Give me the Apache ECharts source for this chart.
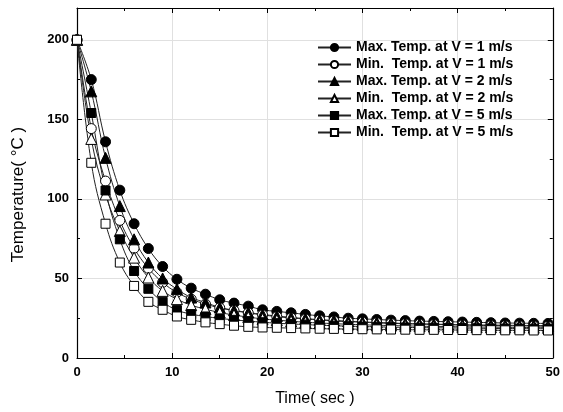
<!DOCTYPE html>
<html><head><meta charset="utf-8">
<script src="https://cdn.jsdelivr.net/npm/echarts@6/dist/echarts.min.js"></script>
<style>html,body{margin:0;padding:0;background:#fff}#c{width:563px;height:412px}</style>
</head><body><div id="c"></div>
<script>
const times = [0,1.5,3,4.5,6,7.5,9,10.5,12,13.5,15,16.5,18,19.5,21,22.5,24,25.5,27,28.5,30,31.5,33,34.5,36,37.5,39,40.5,42,43.5,45,46.5,48,49.5];
const maxV1 = [200,175,135.9,105.5,84.4,68.8,57.5,49.5,43.9,40.1,36.6,34.5,32.6,30.3,29.3,28.4,27.4,26.5,25.8,25.0,24.6,24.2,23.8,23.5,23.2,23.0,22.8,22.6,22.4,22.2,22.0,21.9,21.8,21.7];
const minV1 = [200,144.2,111.2,86.5,69,56.4,47.5,41.2,37,33.9,31.5,29.8,28.3,27.1,26.0,25.2,24.5,23.9,23.3,22.9,22.5,22.1,21.8,21.5,21.3,21.1,20.9,20.7,20.5,20.4,20.3,20.2,20.1,20.0];
const maxV2 = [200,167.6,125.8,95.5,74.6,60,50,43.3,38,34.9,31.8,30.0,28.6,27.4,26.4,25.5,24.8,24.1,23.6,23.1,22.7,22.3,22.0,21.7,21.5,21.3,21.1,20.9,20.8,20.7,20.6,20.5,20.4,20.3];
const minV2 = [200,137.7,102.8,79.8,63.1,50.6,42.2,37,33.2,30.7,28.6,27.0,25.7,24.6,23.8,23.1,22.5,22.0,21.6,21.2,20.9,20.6,20.4,20.2,20.0,19.8,19.7,19.6,19.5,19.4,19.3,19.2,19.1,19.0];
const maxV5 = [200,154,105.3,74.6,54.7,43.5,35.3,30.1,27.6,26.1,24.9,24.0,23.2,22.5,21.9,21.4,21.0,20.6,20.3,20.0,19.8,19.6,19.4,19.2,19.1,19.0,18.9,18.8,18.7,18.6,18.5,18.5,18.4,18.4];
const minV5 = [200,122.7,84.4,60,45.3,35.3,30.3,26.1,24,22.4,21.3,20.3,19.6,19.2,19.0,18.8,18.6,18.4,18.3,18.2,18.1,18.0,17.9,17.8,17.7,17.7,17.6,17.6,17.5,17.5,17.4,17.4,17.3,17.3];
const names = ['Max. Temp. at V = 1 m/s','Min.  Temp. at V = 1 m/s','Max. Temp. at V = 2 m/s','Min.  Temp. at V = 2 m/s','Max. Temp. at V = 5 m/s','Min.  Temp. at V = 5 m/s'];
const seriesVals = [maxV1,minV1,maxV2,minV2,maxV5,minV5];
const symbols = ['circle','circle','triangle','triangle','rect','rect'];
const filled = [true,false,true,false,true,false];

const chart = echarts.init(document.getElementById('c'));
const font = 'Liberation Sans, Arial, sans-serif';
const series = seriesVals.map((vals,i)=>({
  name: names[i], type:'line', smooth:0.4,
  data: times.map((t,j)=>[t, vals[j]]),
  symbol: symbols[i], symbolSize: symbols[i]==='rect'?9:(symbols[i]==='triangle'?11:10),
  showAllSymbol:true,
  lineStyle:{color:'#222', width:1},
  itemStyle:{color: filled[i]?'#000':'#fff', borderColor:'#000', borderWidth:1, opacity:1},
  emphasis:{disabled:true},
  animation:false
}));
const axisCommon = {
  axisLine:{show:true, onZero:false, lineStyle:{color:'#000', width:1.2}},
  axisTick:{show:true, inside:true, length:5, lineStyle:{color:'#000'}},
  minorTick:{show:true, splitNumber:2, length:3, lineStyle:{color:'#000'}}
};
chart.setOption({
  animation:false,
  backgroundColor:'#fff',
  grid:{left:77, right:6, top:8, bottom:53},
  legend:{
    orient:'vertical', left:317, top:39, padding:0, itemWidth:33, itemHeight:9, itemGap:0,
    textStyle:{fontFamily:font, fontWeight:'bold', fontSize:14, lineHeight:17, color:'#000', padding:[0,0,0,0]},
    data: names
  },
  graphic:[{
    type:'text', x:18, y:194.5, rotation:Math.PI/2,
    style:{text:'Temperature( °C )', font:'17px Liberation Sans, Arial, sans-serif', fill:'#000', align:'center', verticalAlign:'middle'}
  }],
  xAxis:[
    Object.assign({type:'value', min:0, max:50, interval:10,
      name:'Time( sec )', nameLocation:'middle', nameGap:33,
      nameTextStyle:{fontFamily:font, fontSize:16, color:'#000'},
      axisLabel:{fontFamily:font, fontWeight:'bold', fontSize:13, color:'#000', margin:8},
      splitLine:{show:true, lineStyle:{color:'#e0e0e0', width:1}}}, axisCommon),
    Object.assign({type:'value', min:0, max:50, interval:10, position:'top',
      axisLabel:{show:false}, splitLine:{show:false}}, axisCommon)
  ],
  yAxis:[
    Object.assign({type:'value', min:0, max:220, interval:50,
      axisLabel:{fontFamily:font, fontWeight:'bold', fontSize:13, color:'#000', margin:8,
        formatter:v=> (v%50===0 && v<=200) ? String(v) : ''},
      splitLine:{show:true, lineStyle:{color:'#e0e0e0', width:1}}}, axisCommon),
    Object.assign({type:'value', min:0, max:220, interval:50, position:'right',
      axisLabel:{show:false}, splitLine:{show:false}}, axisCommon)
  ],
  series: series
});
</script></body></html>
